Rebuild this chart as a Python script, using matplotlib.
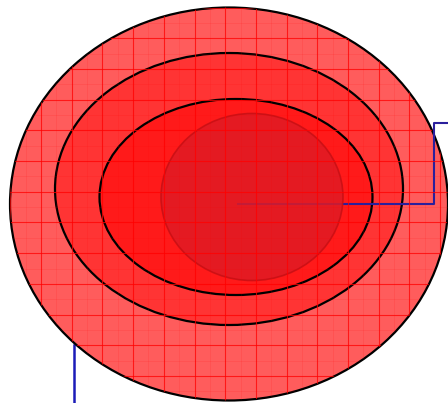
import numpy as np
import matplotlib
matplotlib.use('Agg')
import matplotlib.pyplot as plt
from matplotlib.patches import Ellipse

# ellipse layers, outer to inner (pixel units of the 448x403 canvas)
cx = [229, 229, 236, 252]
cy = [204, 189, 197, 197]
widths = [438, 348, 273, 182]
heights = [393, 272, 196, 167]
fills = ['#ff5c5c', '#ff3434', '#ff1a1a', '#e01b24']
edges = ['black', 'black', 'black', '#c80f14']

# connector lines
line1_x = [238, 434, 434, 448]
line1_y = [204, 204, 123, 123]
line2_x = [74, 74]
line2_y = [345, 403]

fig = plt.figure(figsize=(4.48, 4.03), dpi=100)
ax = fig.add_axes([0, 0, 1, 1])
ax.set_xlim(0, 448)
ax.set_ylim(403, 0)
ax.axis('off')

patches = []
for i in range(len(cx)):
    e = Ellipse((cx[i], cy[i]), widths[i], heights[i], facecolor=fills[i],
                edgecolor=edges[i], linewidth=1.6 if i < 3 else 1.2,
                zorder=2 + i * 2, alpha=1 if i < 3 else 0.85)
    ax.add_patch(e)
    patches.append(e)

# grid inside the outer ellipse
step = 30.7
xs = np.arange(10.3, 448, step)
ys = np.arange(7.6, 403, step)
for x in xs:
    l = ax.axvline(x, color='#ff0000', lw=0.8, alpha=0.75, zorder=9)
    l.set_clip_path(patches[0])
    m = ax.axvline(x + step / 2, color='#ff0000', lw=0.5, alpha=0.15, zorder=9)
    m.set_clip_path(patches[0])
for y in ys:
    l = ax.axhline(y, color='#ff0000', lw=0.8, alpha=0.75, zorder=9)
    l.set_clip_path(patches[0])
    m = ax.axhline(y + step / 2, color='#ff0000', lw=0.5, alpha=0.15, zorder=9)
    m.set_clip_path(patches[0])

ax.plot(line1_x, line1_y, color='#2a1f9c', lw=1.5, zorder=7)
ax.plot(line2_x, line2_y, color='#1c1cb8', lw=1.8, zorder=1)

fig.savefig('out.png', dpi=100)
